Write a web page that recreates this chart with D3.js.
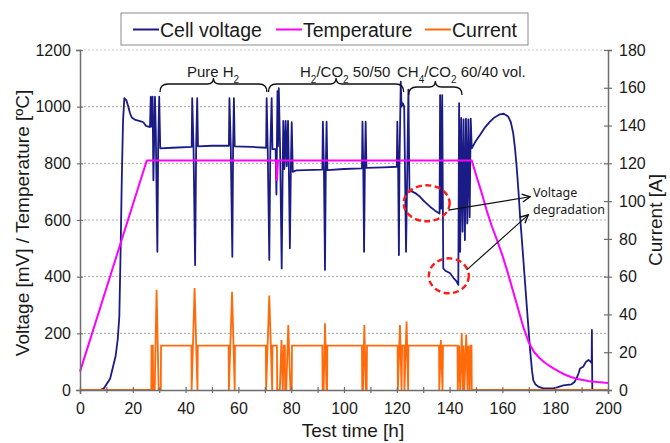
<!DOCTYPE html>
<html>
<head>
<meta charset="utf-8" />
<title>Cell test</title>
<script src="https://d3js.org/d3.v7.min.js"></script>
<style>
  body { margin: 0; background: #fff; }
  text { font-family: Arial, "Liberation Sans", sans-serif; fill: #1a1a1a; }
</style>
</head>
<body>
<svg width="670" height="443"></svg>
<script>
// Cell voltage [mV] vs time [h]
var voltT = [0,7.5,9,11.4,13.5,14.3,14.9,15.4,15.8,16.3,16.8,17.6,18.3,19,19.6,21,23,24,25,26.5,
  26.8,27.1,27.5,27.8,28.4,28.7,29.3,29.6,30,30.4,35,42.3,
  42.5,43,43.6,44,44.4,44.7,50,56.4,56.6,57.1,57.7,58,58.3,58.6,
  65,70.5,70.7,71.1,71.7,72.1,72.6,72.9,74.1,74.4,74.8,75,75.3,75.8,76.4,76.8,77,77.4,77.9,78.3,78.8,79.1,79.5,79.9,80.2,80.6,82,91.8,
  92,92.4,92.8,93.1,93.4,93.7,100,106.8,107,107.3,107.6,107.9,108.2,108.5,
  115,120,120.2,120.5,120.8,121,121.5,121.8,122.3,122.8,123.5,124,124.4,124.8,
  125.5,127,128.8,130.5,132.6,134.5,136.2,136.4,136.8,137.2,137.6,138.5,139,140.2,141.5,142.5,143.3,
  143.6,144,144.4,144.9,145.3,145.8,146.2,146.7,147.1,147.6,148,148.4,
  150,151.5,153.5,155.3,157,159.1,160.5,162.2,163.2,164.1,164.8,165.4,166.1,166.7,167.7,168.6,169.6,170.5,171.2,171.7,172.5,173.6,175.5,
  179.3,181,183.1,186.2,187.3,188.1,188.9,189.4,190.6,191.7,192.6,193.4,193.8,193.9,194.05];
var voltV = [0,0,5,40,120,180,260,500,730,950,1030,1022,1000,975,962,953,948,945,932,928,
  1035,930,1035,740,1035,920,488,850,1035,853,855,858,
  1030,858,441,860,1030,860,862,862,1030,862,470,862,1030,860,
  858,855,1030,855,459,852,1030,850,850,690,1055,860,1065,850,429,800,950,780,950,790,950,790,500,800,945,770,775,778,
  947,780,424,780,947,776,780,782,947,783,488,783,947,784,
  786,788,947,790,476,790,1088,1000,1012,1000,488,800,1060,700,
  702,695,682,665,647,633,623,1041,640,1041,429,420,418,412,395,385,371,
  1012,488,960,559,955,529,958,588,955,610,958,853,
  880,900,928,947,962,973,975,965,945,906,850,788,700,612,490,376,250,141,70,35,20,12,6,
  6,10,16,20,28,41,60,76,82,100,106,100,95,212,0];

// Temperature [ºC]
var tempT = [0,25.3,74.3,74.6,75,148.4,150,152,154,156,158,160,162,164,166,168,170,172,174,176,178,180,182,184,186,188,190,193,196,200];
var tempV = [65,810,810,741,810,810,760,700,635,578,528,475,415,350,285,220,168,134,113,97,84,73,62,53,46,40,36,31,28,25];

// Current [A]
var currT = [0,27,27.1,27.6,27.7,28.3,29,29.8,30.6,30.7,
  42.2,42.3,43.4,44.5,44.6,56.3,56.4,57.6,58.6,58.7,70.4,70.5,71.7,72.8,72.9,
  74.6,74.7,75.7,76.3,76.8,77.2,77.6,77.7,78.1,78.9,79.7,80.2,80.3,
  91.8,91.9,92.3,92.8,93.4,93.6,93.7,106.8,106.9,107.2,107.7,108.3,108.6,108.7,
  120.3,120.4,121.2,121.8,122,122.8,122.9,123.7,124.3,124.4,
  136,136.1,136.7,137.3,137.5,
  143,143.1,143.6,144,144.6,145,145.3,145.6,146.3,146.8,147.1,147.6,147.9,148.3,148.4,200];
var currV = [0,0,23.5,23.5,0,0,53,0,0,23.5,
  23.5,0,54,0,23.5,23.5,0,52,0,23.5,23.5,0,50,0,23.5,
  23.5,0,0,26.5,0,23.5,23.5,0,0,34.4,0,0,23.5,
  23.5,0,0,35.3,0,0,23.5,23.5,0,0,34.4,0,0,23.5,
  23.5,0,34.4,0,23.5,23.5,0,36.2,0,23.5,
  23.5,0,26.5,0,23.5,
  23.5,0,23.5,0,30,0,23.5,0,29.4,0,23.5,0,23.5,23.5,0,0];

var leftTicks = [0,200,400,600,800,1000,1200];
var rightTicks = [0,20,40,60,80,100,120,140,160,180];
var xTicks = d3.range(0, 201, 10);

var seriesNames = ["Cell voltage", "Temperature", "Current"];
var seriesColors = ["#1b1b86", "#ff00ff", "#ff6a0a"];

var svg = d3.select("svg");
var margin = { top: 50, right: 62, bottom: 53, left: 80 },
    width = 670 - margin.left - margin.right,
    height = 443 - margin.top - margin.bottom;

var x = d3.scaleLinear().domain([0, 200]).range([margin.left, margin.left + width]);
var yL = d3.scaleLinear().domain([0, 1200]).range([margin.top + height, margin.top]);
var yR = d3.scaleLinear().domain([0, 180]).range([margin.top + height, margin.top]);

// grid lines
svg.append("g").selectAll("line")
  .data(leftTicks.slice(1))
  .enter().append("line")
  .attr("x1", x(0)).attr("x2", x(200))
  .attr("y1", function (d) { return yL(d); })
  .attr("y2", function (d) { return yL(d); })
  .attr("stroke", function (d) { return d === 1200 ? "#c8c8c8" : "#a8a8a8"; })
  .attr("stroke-width", 1)
  .attr("stroke-dasharray", "2,2");

function pts(ts, vs) { return ts.map(function (t, i) { return [t, vs[i]]; }); }

var lineL = d3.line().x(function (d) { return x(d[0]); }).y(function (d) { return yL(d[1]); });
var lineR = d3.line().x(function (d) { return x(d[0]); }).y(function (d) { return yR(d[1]); });

svg.append("path").datum(pts(voltT, voltV))
  .attr("d", lineL).attr("fill", "none").attr("stroke", seriesColors[0])
  .attr("stroke-width", 1.8).attr("stroke-linejoin", "round");
svg.append("path").datum(pts(tempT, tempV))
  .attr("d", lineL).attr("fill", "none").attr("stroke", seriesColors[1])
  .attr("stroke-width", 2).attr("stroke-linejoin", "round");
svg.append("path").datum(pts(currT, currV))
  .attr("d", lineR).attr("fill", "none").attr("stroke", seriesColors[2])
  .attr("stroke-width", 1.8);

// axes
function styleAxis(g) {
  g.select(".domain").attr("stroke", "#6e6e6e").attr("stroke-width", 1.5);
  g.selectAll(".tick line").attr("stroke", "#6e6e6e").attr("stroke-width", 1.2);
  g.selectAll(".tick text").style("font-size", "16px").style("font-family", "Arial").attr("fill", "#1a1a1a");
}

var gL = svg.append("g").attr("transform", "translate(" + x(0) + ",0)")
  .call(d3.axisLeft(yL).tickValues(leftTicks).tickFormat(d3.format("d"))
    .tickSizeOuter(0).tickSize(4).tickPadding(5));
gL.selectAll(".tick line").attr("x1", 3).attr("x2", -3);
styleAxis(gL);

var gR = svg.append("g").attr("transform", "translate(" + x(200) + ",0)")
  .call(d3.axisRight(yR).tickValues(rightTicks).tickSizeOuter(0).tickSize(4).tickPadding(7));
gR.selectAll(".tick line").attr("x1", -4).attr("x2", 4);
styleAxis(gR);

var gX = svg.append("g").attr("transform", "translate(0," + yL(0) + ")")
  .call(d3.axisBottom(x).tickValues(xTicks).tickSizeOuter(0).tickSize(4).tickPadding(9)
    .tickFormat(function (d) { return d % 20 === 0 ? d : ""; }));
gX.selectAll(".tick line").attr("y1", -3).attr("y2", 3);
styleAxis(gX);

// axis titles
svg.append("text").attr("transform", "translate(29," + (yL(600) + 3) + ") rotate(-90)")
  .attr("text-anchor", "middle").style("font-size", "19px")
  .text("Voltage [mV] / Temperature [ºC]");
svg.append("text").attr("transform", "translate(662," + yL(600) + ") rotate(-90)")
  .attr("text-anchor", "middle").style("font-size", "19px")
  .text("Current [A]");
svg.append("text").attr("x", 353).attr("y", 437)
  .attr("text-anchor", "middle").style("font-size", "19px")
  .text("Test time [h]");

// legend
var lg = svg.append("g");
lg.append("rect").attr("x", 121).attr("y", 13).attr("width", 407).attr("height", 32)
  .attr("fill", "#fff").attr("stroke", "#8a8a8a").attr("stroke-width", 1);
var legX = [133, 276, 425];
seriesNames.forEach(function (n, i) {
  lg.append("line").attr("x1", legX[i]).attr("x2", legX[i] + 26).attr("y1", 29.5).attr("y2", 29.5)
    .attr("stroke", seriesColors[i]).attr("stroke-width", 2);
  lg.append("text").attr("x", legX[i] + 27).attr("y", 36.5).style("font-size", "19.5px").text(n);
});

// gas-phase braces
var phases = [
  { t0: 30.3, t1: 70.8, yb: 84 },
  { t0: 71.4, t1: 122.6, yb: 84 },
  { t0: 124.5, t1: 144.7, yb: 87 }
];
phases.forEach(function (p) {
  var x1 = x(p.t0), x2 = x(p.t1), xm = (x1 + x2) / 2, y = p.yb;
  var d = "M" + x1 + "," + (y + 8) + " Q" + x1 + "," + y + " " + (x1 + 8) + "," + y +
    " L" + (xm - 6) + "," + y + " Q" + xm + "," + y + " " + xm + "," + (y - 6) +
    " Q" + xm + "," + y + " " + (xm + 6) + "," + y +
    " L" + (x2 - 8) + "," + y + " Q" + x2 + "," + y + " " + x2 + "," + (y + 8);
  svg.append("path").attr("d", d).attr("fill", "none").attr("stroke", "#111").attr("stroke-width", 1.3);
});

function gasLabel(xp, anchor, parts) {
  var t = svg.append("text").attr("x", xp).attr("y", 77).attr("text-anchor", anchor).style("font-size", "15px");
  parts.forEach(function (p) {
    var s = t.append("tspan").text(p[0]);
    if (p[1]) s.attr("baseline-shift", "sub").style("font-size", "10px");
  });
}
gasLabel(213, "middle", [["Pure H"], ["2", 1]]);
gasLabel(300, "start", [["H"], ["2", 1], ["/CO"], ["2", 1], [" 50/50"]]);
gasLabel(397, "start", [["CH"], ["4", 1], ["/CO"], ["2", 1], [" 60/40 vol."]]);

// degradation markers
var rings = [
  { t: 131.3, v: 659, rx: 23, ry: 18 },
  { t: 139.7, v: 403, rx: 20, ry: 17.5 }
];
rings.forEach(function (r) {
  svg.append("ellipse").attr("cx", x(r.t)).attr("cy", yL(r.v)).attr("rx", r.rx).attr("ry", r.ry)
    .attr("fill", "none").attr("stroke", "#ff1a1a").attr("stroke-width", 2.4).attr("stroke-dasharray", "6,3.5");
});

svg.append("defs").append("marker").attr("id", "arr")
  .attr("viewBox", "0 0 10 10").attr("refX", 9).attr("refY", 5)
  .attr("markerWidth", 10).attr("markerHeight", 10).attr("markerUnits", "userSpaceOnUse")
  .attr("orient", "auto")
  .append("path").attr("d", "M1,1 L9,5 L1,9").attr("fill", "none").attr("stroke", "#111").attr("stroke-width", 1.4);

var arrows = [
  { t0: 139.5, v0: 635, t1: 170.5, v1: 682 },
  { t0: 146.5, v0: 424, t1: 169.8, v1: 618 }
];
arrows.forEach(function (a) {
  svg.append("line").attr("x1", x(a.t0)).attr("y1", yL(a.v0)).attr("x2", x(a.t1)).attr("y2", yL(a.v1))
    .attr("stroke", "#111").attr("stroke-width", 1.2).attr("marker-end", "url(#arr)");
});

var note = svg.append("text").attr("x", 533).attr("y", 197)
  .style("font-family", "'Noto Sans', sans-serif").style("font-size", "12.5px").attr("fill", "#333");
note.append("tspan").attr("x", 533).text("Voltage");
note.append("tspan").attr("x", 533).attr("dy", 17).text("degradation");
</script>
</body>
</html>
